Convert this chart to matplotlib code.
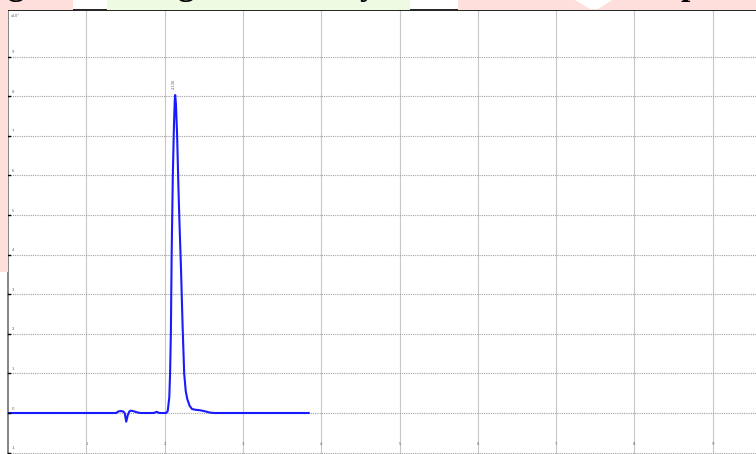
import matplotlib
matplotlib.use("Agg")
import matplotlib.pyplot as plt
from matplotlib.patches import Rectangle, Polygon

# Chromatogram trace: retention time (min) and detector response
time_min = [0.00, 1.00, 1.38, 1.41, 1.44, 1.47, 1.49, 1.51, 1.53, 1.55, 1.57,
            1.61, 1.66, 1.70, 1.86, 1.90, 1.93, 2.02, 2.04, 2.06, 2.07, 2.08,
            2.09, 2.105, 2.12, 2.13, 2.135, 2.145, 2.16, 2.175, 2.19, 2.21,
            2.23, 2.25, 2.27, 2.29, 2.32, 2.35, 2.40, 2.45, 2.50, 2.54,
            2.58, 2.63, 3.00, 3.84]
response = [0.00, 0.00, 0.00, 0.04, 0.05, 0.04, 0.00, -0.22, -0.05, 0.04, 0.06,
            0.04, 0.01, 0.00, 0.00, 0.03, 0.00, 0.00, 0.05, 0.40, 1.00, 2.00,
            4.00, 6.00, 7.30, 7.90, 8.03, 7.80, 7.00, 5.80, 4.80, 3.60,
            2.20, 1.00, 0.55, 0.35, 0.18, 0.10, 0.08, 0.07, 0.05, 0.03,
            0.01, 0.00, 0.00, 0.00]

peak_time = 2.135
peak_height = 8.03
peak_label = "2.130"

x_ticks = [1, 2, 3, 4, 5, 6, 7, 8, 9]
y_ticks = [-1, 0, 1, 2, 3, 4, 5, 6, 7, 8, 9]

W, H = 756, 454
fig = plt.figure(figsize=(W / 100, H / 100), dpi=100)
fig.patch.set_facecolor("white")

# page background strip above the plot
def px_rect(x0, y0, x1, y1, color):
    fig.patches.append(Rectangle((x0 / W, 1 - y1 / H), (x1 - x0) / W, (y1 - y0) / H,
                                 transform=fig.transFigure, facecolor=color,
                                 edgecolor="none", zorder=0))

pink = "#ffdfdc"
green = "#eefae2"
px_rect(0, 0, 73, 10, pink)
px_rect(107, 0, 410, 10, green)
px_rect(458, 0, 756, 10, pink)
px_rect(0, 10, 8, 272, pink)
fig.patches.append(Polygon([(575 / W, 1.0), (612 / W, 1.0), (598 / W, 1 - 9 / H), (590 / W, 1 - 9 / H)],
                           closed=True, transform=fig.transFigure, facecolor="white",
                           edgecolor="none", zorder=0))

# descenders of the heading line above the plot
for xpx, ch in [(16, "g"), (185, "g"), (368, "y"), (690, "p")]:
    fig.text(xpx / W, 1 + 5.5 / H, ch, fontsize=24, fontweight="bold",
             family="Liberation Serif", ha="center", va="baseline", color="black")

ax = fig.add_axes([8 / W, 0, 748 / W, 444.5 / H])
ax.set_facecolor("white")
ax.set_xlim(0, 748 / 78.3)
ax.set_ylim(-41 / 39.6, 403.5 / 39.6)

for xt in x_ticks:
    ax.axvline(xt, color="#c8c8c8", lw=0.8, zorder=1)
for yt in y_ticks:
    ax.axhline(yt, color="#a0a0a0", lw=0.8, ls=(0, (1, 1)), zorder=1)

ax.plot(time_min, response, color="#1a1aff", lw=1.5, zorder=3, solid_joinstyle="round")

ax.text(peak_time - 0.02, peak_height + 0.15, peak_label, rotation=90, fontsize=2.5,
        color="#555555", ha="center", va="bottom")

# tick labels drawn inside the plot area
for xt in x_ticks:
    ax.text(xt, -0.78, str(xt), fontsize=2.8, color="#666666", ha="center", va="center")
for yt in y_ticks:
    ax.text(0.05, yt + 0.06, str(yt), fontsize=2.8, color="#666666", ha="left", va="bottom")
    ax.plot([0, 0.025], [yt, yt], color="black", lw=1.0, zorder=4, clip_on=False)
ax.text(0.04, 10.02, "x10\u2075", fontsize=2.8, color="#666666", ha="left", va="center")

ax.set_xticks([])
ax.set_yticks([])
for side in ["right", "bottom"]:
    ax.spines[side].set_visible(False)
ax.spines["left"].set_color("#707070")
ax.spines["left"].set_linewidth(1.2)
ax.spines["top"].set_color("#222222")
ax.spines["top"].set_linewidth(1.4)

fig.savefig("out.png", dpi=100)
